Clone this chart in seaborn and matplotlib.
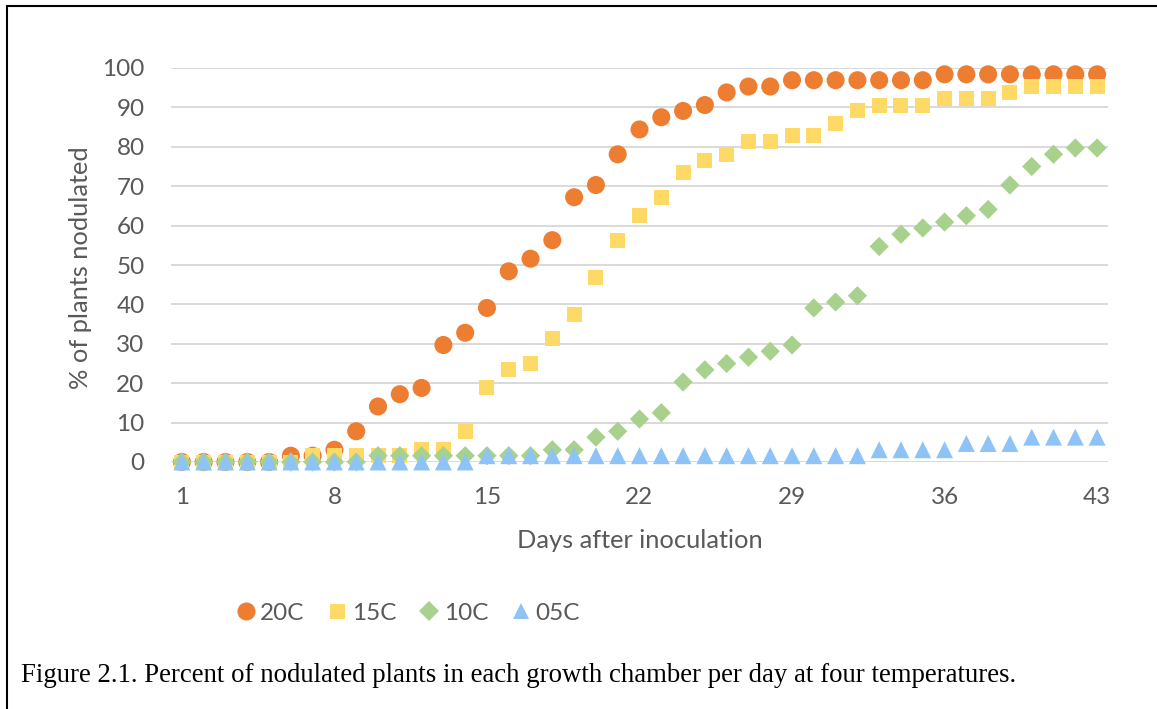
import matplotlib
matplotlib.use("Agg")
import matplotlib.pyplot as plt
from matplotlib.lines import Line2D
import numpy as np
import pandas as pd
import seaborn as sns

# Days after inoculation
days = list(range(1, 44))

# Percent of plants nodulated per growth chamber
pct_20c = [0, 0, 0, 0, 0, 1.6, 1.6, 3.1, 7.8, 14.1,
           17.2, 18.8, 29.7, 32.8, 39.1, 48.4, 51.6, 56.3, 67.2, 70.3,
           78.1, 84.4, 87.5, 89.1, 90.6, 93.8, 95.3, 95.3, 96.9, 96.9,
           96.9, 96.9, 96.9, 96.9, 96.9, 98.4, 98.4, 98.4, 98.4, 98.4,
           98.4, 98.4, 98.4]
pct_15c = [0, 0, 0, 0, 0, 0, 1.6, 1.6, 1.6, 1.6,
           1.6, 3.1, 3.1, 7.8, 18.8, 23.4, 25.0, 31.3, 37.5, 46.9,
           56.3, 62.5, 67.2, 73.4, 76.6, 78.1, 81.3, 81.3, 82.8, 82.8,
           85.9, 89.1, 90.6, 90.6, 90.6, 92.2, 92.2, 92.2, 93.8, 95.3,
           95.3, 95.3, 95.3]
pct_10c = [0, 0, 0, 0, 0, 0, 0, 0, 0, 1.6,
           1.6, 1.6, 1.6, 1.6, 1.6, 1.6, 1.6, 3.1, 3.1, 6.3,
           7.8, 10.9, 12.5, 20.3, 23.4, 25.0, 26.6, 28.1, 29.7, 39.1,
           40.6, 42.2, 54.7, 57.8, 59.4, 60.9, 62.5, 64.1, 70.3, 75.0,
           78.1, 79.7, 79.7]
pct_05c = [0, 0, 0, 0, 0, 0, 0, 0, 0, 0,
           0, 0, 0, 0, 1.6, 1.6, 1.6, 1.6, 1.6, 1.6,
           1.6, 1.6, 1.6, 1.6, 1.6, 1.6, 1.6, 1.6, 1.6, 1.6,
           1.6, 1.6, 3.1, 3.1, 3.1, 3.1, 4.7, 4.7, 4.7, 6.3,
           6.3, 6.3, 6.3]

series_names = ["20C", "15C", "10C", "05C"]
series_values = [pct_20c, pct_15c, pct_10c, pct_05c]
series_colors = ["#ED7D31", "#FFD966", "#A9D18E", "#8DC3F7"]
series_markers = ["o", "s", "D", "^"]
marker_sizes = [13.0, 10.8, 9.8, 12.2]  # points (marker extent)

x_ticks = [1, 8, 15, 22, 29, 36, 43]
y_ticks = list(range(0, 101, 10))

df = pd.DataFrame({
    "day": days * len(series_names),
    "pct": sum(series_values, []),
    "temp": np.repeat(series_names, len(days)),
})

sns.set_theme(style="white")
plt.rcParams["font.family"] = ["Lato", "DejaVu Sans"]

W, H = 1157, 709
fig = plt.figure(figsize=(W / 100, H / 100), dpi=100)
ax = fig.add_axes([171 / W, 1 - 462 / H, (1108 - 171) / W, (462 - 68) / H])

for name, color, mk, ms in zip(series_names, series_colors, series_markers, marker_sizes):
    sub = df[df["temp"] == name]
    sns.scatterplot(data=sub, x="day", y="pct", ax=ax, color=color, marker=mk,
                    s=ms ** 2, linewidth=0, edgecolor="none", legend=False,
                    clip_on=False, zorder=3)

ax.set_xlim(0.5, 43.5)
ax.set_ylim(0, 100)
ax.set_xticks(x_ticks)
ax.set_yticks(y_ticks)
ax.set_xlabel("")
ax.set_ylabel("")
ax.grid(axis="y", color="#D9D9D9", linewidth=1.4)
ax.grid(axis="x", visible=False)
ax.set_axisbelow(True)
for sp in ax.spines.values():
    sp.set_visible(False)
ax.tick_params(axis="both", length=0, labelsize=17.5, labelcolor="#595959")
ax.tick_params(axis="y", pad=19)
ax.tick_params(axis="x", pad=18)

fig.text(640 / W, 1 - 541 / H, "Days after inoculation", ha="center", va="center",
         fontsize=18.3, color="#595959")
fig.text(80 / W, 1 - 268 / H, "% of plants nodulated", ha="center", va="center",
         rotation=90, fontsize=18.3, color="#595959")

handles = [Line2D([0], [0], marker=mk, linestyle="none", markerfacecolor=c,
                  markeredgewidth=0, markersize=ms)
           for c, mk, ms in zip(series_colors, series_markers, marker_sizes)]
fig.legend(handles, series_names, loc="center", bbox_to_anchor=(409 / W, 1 - 613 / H),
           ncol=4, frameon=False, fontsize=17.5, labelcolor="#595959",
           handlelength=0.6, handletextpad=0.3, columnspacing=1.05)

fig.text(21 / W, 1 - 675 / H,
         "Figure 2.1. Percent of nodulated plants in each growth chamber per day at four temperatures.",
         ha="left", va="center", fontsize=19.3, color="black",
         family=["Liberation Serif", "DejaVu Serif"])

# Frame lines around the figure
fig.add_artist(Line2D([7 / W, 7 / W], [0, 1 - 6 / H], color="black", linewidth=1.5))
fig.add_artist(Line2D([7 / W, 1], [1 - 6 / H, 1 - 6 / H], color="black", linewidth=1.5))

fig.savefig("out.png", dpi=100, facecolor="white")
